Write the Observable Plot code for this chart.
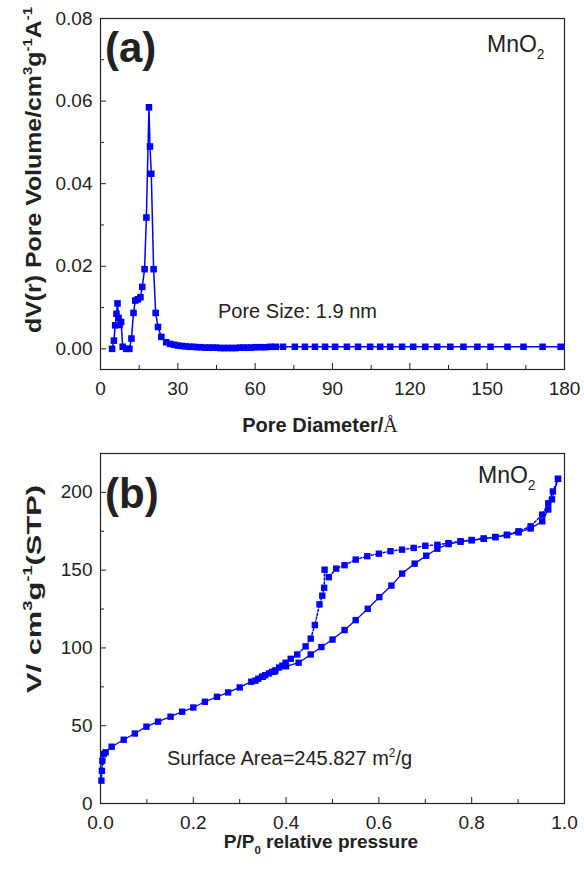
<!DOCTYPE html>
<html><head><meta charset="utf-8">
<script src="https://cdn.jsdelivr.net/npm/d3@7"></script>
<script src="https://cdn.jsdelivr.net/npm/@observablehq/plot@0.6"></script>
<style>
body{margin:0;background:#fff;}
#chart{width:584px;}
svg{display:block;}
</style></head><body><div id="chart"></div>
<script>
// ---- Panel (a): pore size distribution ----
const poreD = [4.5,5.2,5.7,6.2,6.6,7.0,7.4,8.0,8.6,10.0,
  11.2,12.0,12.8,13.5,14.5,15.5,16.2,17.1,17.8,18.8,
  19.2,19.7,20.6,21.4,22.3,23.6,25.5,27,28.5,30,
  31.5,33,34.5,36,37.5,39,40.5,42,43.5,45,
  46.5,48,49.5,51,52.5,54,55.5,57,58.5,60,
  62,64,66,68,70.8,75.4,79.3,83.2,87.1,91,
  95.6,99.9,104.6,108.5,112.4,117,121.3,126,130.6,135.7,
  140.8,146.2,151.3,157.9,164.1,171.5,178.5];
const poreV = [0.0,0.002,0.0057,0.0085,0.011,0.0075,0.0058,0.0065,0.0005,0.0,
  0.0,0.0025,0.0087,0.0117,0.012,0.0125,0.015,0.0193,0.0318,0.0585,
  0.049,0.0424,0.0193,0.0087,0.0053,0.0029,0.0016,0.0012,0.001,0.0008,
  0.0007,0.0006,0.0005,0.0005,0.0004,0.0004,0.0003,0.0003,0.0003,0.0003,
  0.0002,0.0002,0.0002,0.0002,0.0002,0.0003,0.0003,0.0003,0.0003,0.0004,
  0.0004,0.0004,0.0005,0.0005,0.0005,0.0005,0.0005,0.0005,0.0005,0.0005,
  0.0005,0.0005,0.0005,0.0005,0.0005,0.0005,0.0005,0.0005,0.0005,0.0005,
  0.0005,0.0005,0.0005,0.0005,0.0005,0.0005,0.0005];
const xTicksA = [0,30,60,90,120,150,180];
const xMinorA = [15,45,75,105,135,165];
const yTicksA = [0,0.02,0.04,0.06,0.08];
const yMinorA = [0.01,0.03,0.05,0.07];

// ---- Panel (b): N2 isotherm ----
const adsP = [0.002,0.003,0.004,0.007,0.011,0.024,0.05,0.074,0.099,0.124,
  0.151,0.176,0.2,0.225,0.251,0.275,0.3,0.325,0.35,0.375,
  0.4,0.427,0.453,0.476,0.5,0.526,0.55,0.576,0.601,0.627,
  0.65,0.677,0.702,0.726,0.75,0.776,0.8,0.826,0.851,0.876,
  0.901,0.927,0.952,0.965,0.973,0.986];
const adsV = [14.7,21,27.5,31.8,32.9,36.5,41,45,49.4,52.6,
  55.8,59,61.7,65.4,68.6,71.4,74.6,78.3,81.5,84.8,
  88.2,90.5,95.8,100.6,105.4,111.5,117.9,125.2,132.7,140.1,
  147.8,154.2,159.3,163.8,166.8,168.3,169.2,170.2,171.2,172.5,
  174.3,176.8,181.4,189,195.5,208.7];
const desP = [0.986,0.975,0.965,0.952,0.927,0.901,0.876,0.851,0.826,0.8,
  0.776,0.75,0.726,0.7,0.675,0.65,0.625,0.6,0.575,0.55,
  0.526,0.508,0.492,0.483,0.482,0.478,0.472,0.462,0.453,0.442,
  0.424,0.41,0.399,0.392,0.385,0.377,0.37,0.363,0.355,0.348,
  0.34,0.334];
const desV = [208.7,200.6,193,185.7,178.2,175,172.8,171.4,170.3,169.4,
  168.6,167.4,166.3,165.7,164.3,163.2,162.2,160.6,159,156.8,
  153.2,151,145.5,150.3,138.7,133.6,128,114.7,106,101,
  95.8,93,90.5,88.6,87.4,85.6,84.6,83.6,82.5,81.5,
  80.2,79];
const xTicksB = [0,0.2,0.4,0.6,0.8,1.0];
const xMinorB = [0.1,0.3,0.5,0.7,0.9];
const yTicksB = [0,50,100,150,200];
const yMinorB = [25,75,125,175];

const FONT = "'Liberation Sans', Arial, sans-serif";
const SERIF = "'Liberation Serif', 'Times New Roman', serif";
const BLUE = "#0000ff";
const INK = "#222";

const poreData = poreD.map((d, i) => ({d, v: poreV[i]}));
const ads = adsP.map((p, i) => ({p, v: adsV[i]}));
const des = desP.map((p, i) => ({p, v: desV[i]}));

function axes(xT, xM, yT, yM, xFmt, yFmt) {
  return [
    Plot.axisX({ticks: xT, tickSize: 0, tickPadding: 12, tickFormat: xFmt, label: null, fontSize: 19, fill: INK}),
    Plot.axisX({ticks: xT, tickSize: -6, tickFormat: () => "", label: null, stroke: INK}),
    Plot.axisX({ticks: xM, tickSize: -4, tickFormat: () => "", label: null, stroke: INK}),
    Plot.axisY({ticks: yT, tickSize: 0, tickPadding: 8, tickFormat: yFmt, label: null, fontSize: 19, fill: INK}),
    Plot.axisY({ticks: yT, tickSize: -6, tickFormat: () => "", label: null, stroke: INK}),
    Plot.axisY({ticks: yM, tickSize: -4, tickFormat: () => "", label: null, stroke: INK}),
    Plot.frame({stroke: INK, strokeWidth: 1.2})
  ];
}

const chartA = Plot.plot({
  width: 584, height: 440,
  marginLeft: 100, marginRight: 20, marginTop: 18, marginBottom: 71,
  style: {fontFamily: FONT, fontSize: "19px", color: INK, background: "#fff"},
  x: {domain: [0, 180], label: null},
  y: {domain: [-0.005, 0.08], label: null},
  marks: [
    ...axes(xTicksA, xMinorA, yTicksA, yMinorA, d3.format("d"), d3.format(".2f")),
    Plot.line(poreData, {x: "d", y: "v", stroke: BLUE, strokeWidth: 1.5}),
    Plot.dot(poreData, {x: "d", y: "v", symbol: "square", r: 3.7, fill: BLUE, stroke: "none"})
  ]
});

const chartB = Plot.plot({
  width: 584, height: 438,
  marginLeft: 100, marginRight: 20, marginTop: 13, marginBottom: 75,
  style: {fontFamily: FONT, fontSize: "19px", color: INK, background: "#fff"},
  x: {domain: [0, 1], label: null},
  y: {domain: [0, 225], label: null},
  marks: [
    ...axes(xTicksB, xMinorB, yTicksB, yMinorB, d3.format(".1f"), d3.format("d")),
    Plot.line(ads, {x: "p", y: "v", stroke: BLUE, strokeWidth: 1.3}),
    Plot.line(des, {x: "p", y: "v", stroke: BLUE, strokeWidth: 1.5, strokeDasharray: "2,2"}),
    Plot.dot(ads, {x: "p", y: "v", symbol: "square", r: 3.6, fill: BLUE, stroke: "none"}),
    Plot.dot(des, {x: "p", y: "v", symbol: "square", r: 3.6, fill: BLUE, stroke: "none"})
  ]
});

function addText(svg, {x, y, parts, size, weight = "normal", anchor = "start", rotate = 0, fill = INK, length = null}) {
  const t = d3.select(svg).append("text")
    .attr("transform", `translate(${x},${y}) rotate(${rotate})`)
    .attr("font-size", size).attr("font-weight", weight)
    .attr("text-anchor", anchor).attr("font-family", FONT).attr("fill", fill);
  if (length) t.attr("textLength", length).attr("lengthAdjust", "spacingAndGlyphs");
  let shift = 0;
  for (const [s, kind, fam] of parts) {
    const target = kind === "sup" ? -0.42 * size : kind === "sub" ? 0.3 * size : 0;
    const ts = t.append("tspan").text(s).attr("dy", target - shift);
    if (kind !== "n") ts.attr("font-size", size * 0.6);
    if (fam) ts.attr("font-family", fam).attr("font-weight", "normal");
    shift = target;
  }
}

// Panel (a) texts
addText(chartA, {x: 105, y: 62, parts: [["(a)", "n"]], size: 42, weight: "bold"});
addText(chartA, {x: 487, y: 52, parts: [["MnO", "n"], ["2", "sub"]], size: 23});
addText(chartA, {x: 218, y: 318, parts: [["Pore Size: 1.9 nm", "n"]], size: 20});
addText(chartA, {x: 320, y: 432, parts: [["Pore Diameter/", "n"], ["Å", "n", SERIF]], size: 20, weight: "bold", anchor: "middle"});
addText(chartA, {x: 41, y: 170, rotate: -90, anchor: "middle", size: 22, weight: "bold", length: 326,
  parts: [["dV(r) Pore Volume/cm", "n"], ["3", "sup"], ["g", "n"], ["-1", "sup"], ["A", "n"], ["-1", "sup"]]});

// Panel (b) texts (panel starts at y = 440)
addText(chartB, {x: 105, y: 68, parts: [["(b)", "n"]], size: 42, weight: "bold"});
addText(chartB, {x: 478, y: 43, parts: [["MnO", "n"], ["2", "sub"]], size: 23});
addText(chartB, {x: 167, y: 325, parts: [["Surface Area=245.827 m", "n"], ["2", "sup"], ["/g", "n"]], size: 20});
addText(chartB, {x: 321, y: 408, parts: [["P/P", "n"], ["0", "sub"], [" relative pressure", "n"]], size: 19, weight: "bold", anchor: "middle"});
addText(chartB, {x: 41, y: 149, rotate: -90, anchor: "middle", size: 21, weight: "bold", length: 208,
  parts: [["V/ cm", "n"], ["3", "sup"], ["g", "n"], ["-1", "sup"], ["(STP)", "n"]]});

document.getElementById("chart").append(chartA, chartB);
</script></body></html>
